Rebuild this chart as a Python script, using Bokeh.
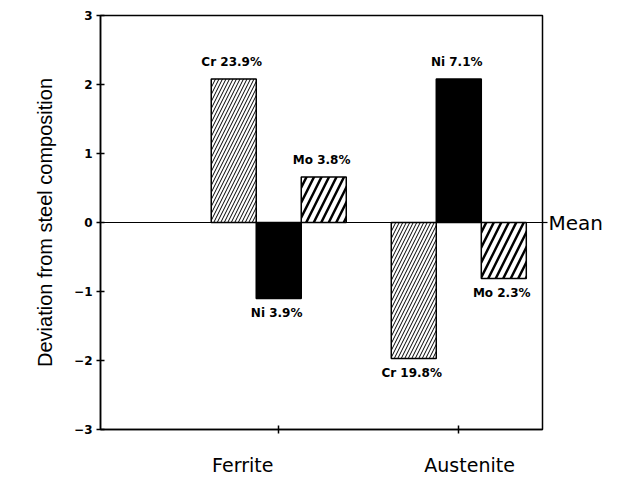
from bokeh.plotting import figure
from bokeh.models import ColumnDataSource, Span, FixedTicker, LinearAxis
from bokeh.core.properties import value
from bokeh.embed import file_html
from bokeh.resources import INLINE

phases = ["Ferrite", "Austenite"]
elements = ["Cr", "Ni", "Mo"]
ferrite_dev = [2.08, -1.10, 0.66]
austenite_dev = [-1.97, 2.08, -0.81]
ferrite_pct = [23.9, 3.9, 3.8]
austenite_pct = [19.8, 7.1, 2.3]
y_ticks = [-3, -2, -1, 0, 1, 2, 3]

group_centers = [0, 4]
offsets = [-1, 0, 1]
label_shift = [-0.8, 0.24]   # phase names sit a little off their ticks in the original

p = figure(width=612, height=478, output_backend="svg", toolbar_location=None,
           x_range=(-3.96, 5.86), y_range=(-3, 3),
           min_border_left=100, min_border_right=70, min_border_top=15, min_border_bottom=48)
p.xgrid.visible = False
p.ygrid.visible = False
p.outline_line_color = "black"
p.outline_line_width = 1.5
p.background_fill_color = "white"
p.border_fill_color = "white"

styles = {
    "Cr": dict(fill_color="white", hatch_pattern="/", hatch_scale=7, hatch_weight=1, hatch_color="black"),
    "Ni": dict(fill_color="black"),
    "Mo": dict(fill_color="white", hatch_pattern="/", hatch_scale=15, hatch_weight=2.5, hatch_color="black"),
}

devs = [ferrite_dev, austenite_dev]
pcts = [ferrite_pct, austenite_pct]

lab_x, lab_y, lab_t, lab_base, lab_off = [], [], [], [], []
for ei, el in enumerate(elements):
    xs = [group_centers[gi] + offsets[ei] for gi in range(len(phases))]
    tops = [devs[gi][ei] for gi in range(len(phases))]
    src = ColumnDataSource(dict(x=xs, top=tops))
    p.vbar(x="x", top="top", bottom=0, width=1, source=src, line_color="black", line_width=1.5, **styles[el])
    for gi in range(len(phases)):
        v = devs[gi][ei]
        lab_x.append(group_centers[gi] + offsets[ei])
        lab_y.append(v)
        lab_t.append(f"{el}  {pcts[gi][ei]}%")
        lab_base.append("bottom" if v > 0 else "top")
        lab_off.append(-10 if v > 0 else 8)

lsrc = ColumnDataSource(dict(x=lab_x, y=lab_y, t=lab_t, b=lab_base, o=lab_off))
p.text(x="x", y="y", text="t", source=lsrc, text_align="center", text_baseline="b", y_offset="o",
       text_font=value("DejaVu Sans"), text_font_style="bold", text_font_size="12px", text_color="black")

p.add_layout(Span(location=0, dimension="width", line_color="black", line_width=1.2))

# right axis used only to print "Mean" at the zero line
mean_axis = LinearAxis(ticker=FixedTicker(ticks=[0]), major_label_overrides={0: "Mean"})
mean_axis.axis_line_color = None
mean_axis.major_tick_line_color = "black"
mean_axis.major_tick_line_width = 1.2
mean_axis.major_tick_in = 0
mean_axis.major_tick_out = 5
mean_axis.minor_tick_line_color = None
mean_axis.major_label_standoff = 1
mean_axis.major_label_text_font = "DejaVu Sans"
mean_axis.major_label_text_font_size = "20px"
mean_axis.major_label_text_color = "black"
p.add_layout(mean_axis, "right")

ya = p.yaxis[0]
ya.ticker = FixedTicker(ticks=y_ticks)
ya.major_label_overrides = {t: (str(t) if t >= 0 else "\u2212" + str(-t)) for t in y_ticks}
ya.major_label_text_font = "DejaVu Sans"
ya.major_label_text_font_style = "bold"
ya.major_label_text_font_size = "12px"
ya.major_label_standoff = 4
ya.axis_label = "Deviation from steel composition"
ya.axis_label_text_font = "Liberation Sans Narrow, Liberation Sans"
ya.axis_label_text_font_style = "normal"
ya.axis_label_text_font_size = "20px"
ya.axis_label_standoff = 15

xa = p.xaxis[0]
xa.ticker = FixedTicker(ticks=group_centers)
xa.major_label_overrides = {c: "" for c in group_centers}
xa.major_label_standoff = 0

for ax in (xa, ya):
    ax.axis_line_color = "black"
    ax.axis_line_width = 1.5
    ax.major_tick_line_color = "black"
    ax.major_tick_line_width = 1.5
    ax.major_tick_in = 4
    ax.major_tick_out = 4
    ax.minor_tick_line_color = None
    ax.major_label_text_color = "black"
    ax.axis_label_text_color = "black"

# second bottom axis carries the phase names
label_pos = [group_centers[i] + label_shift[i] for i in range(len(phases))]
name_axis = LinearAxis(ticker=FixedTicker(ticks=label_pos),
                       major_label_overrides={label_pos[i]: phases[i] for i in range(len(phases))})
name_axis.axis_line_color = None
name_axis.major_tick_line_color = None
name_axis.minor_tick_line_color = None
name_axis.major_tick_out = 0
name_axis.major_tick_in = 0
name_axis.major_label_standoff = 20
name_axis.major_label_text_font = "DejaVu Sans"
name_axis.major_label_text_font_size = "19px"
name_axis.major_label_text_color = "black"
p.add_layout(name_axis, "below")

open("out.html", "w").write(file_html(p, INLINE))
